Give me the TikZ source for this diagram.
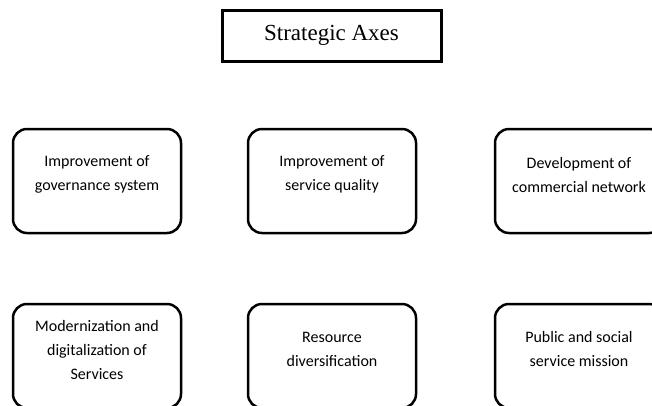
\documentclass[tikz,border=0pt]{standalone}
\usepackage{fontspec}
\setmainfont{Carlito}
\newfontfamily\titlefont{Liberation Serif}
\tikzset{
  axisbox/.style={draw, line width=2.5pt, rounded corners=14pt, minimum width=168pt, minimum height=104pt, inner sep=0pt},
  axistext/.style={align=center, font=\fontsize{16}{24}\selectfont, inner sep=0pt},
  titlebox/.style={draw, line width=3pt, minimum width=219pt, minimum height=51pt, inner sep=0pt, font=\titlefont\fontsize{23}{27}\selectfont}
}
\begin{document}
\begin{tikzpicture}[x=1pt,y=-1pt]
\useasboundingbox (0,0) rectangle (652,405);
\clip (0,0) rectangle (652,405);
\node[titlebox] (title) at (331.5,35.5) {Strategic Axes};
\node[axisbox] (b1) at (97,181) {};
\node[axisbox] (b2) at (332,181) {};
\node[axisbox] (b3) at (579,181) {};
\node[axisbox] (b4) at (97,356) {};
\node[axisbox] (b5) at (332,356) {};
\node[axisbox] (b6) at (579,356) {};
\node[axistext] (t1) at ([yshift=6.5pt]b1.center) {Improvement of\\governance system};
\node[axistext] (t2) at ([yshift=6.5pt]b2.center) {Improvement of\\service quality};
\node[axistext] (t3) at ([yshift=6.5pt]b3.center) {Development of\\commercial network};
\node[axistext] (t4) at ([yshift=6.5pt]b4.center) {Modernization and\\digitalization of\\Services};
\node[axistext] (t5) at ([yshift=7pt]b5.center) {Resource\\diversification};
\node[axistext] (t6) at ([yshift=7pt]b6.center) {Public and social\\service mission};
\end{tikzpicture}
\end{document}
